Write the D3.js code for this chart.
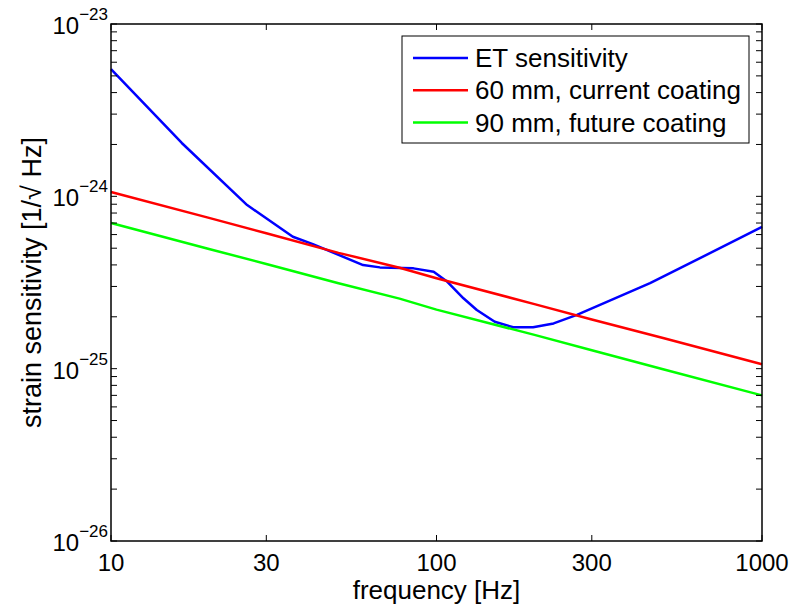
<!DOCTYPE html>
<html>
<head>
<meta charset="utf-8">
<script src="https://cdn.jsdelivr.net/npm/d3@7"></script>
<style>
  body { margin: 0; background: #fff; }
  text { font-family: "Liberation Sans", Arial, sans-serif; fill: #000; }
</style>
</head>
<body>
<div id="chart"></div>
<script>
const margin = { top: 24, right: 29, bottom: 65, left: 111 };
const width = 791, height = 606;

// ET sensitivity curve (blue)
const etFreq = [10, 16.5, 26.2, 36.2, 41.7, 59.5, 67, 85, 98, 108, 121, 133, 151, 172, 198, 229, 270, 453, 560, 1000];
const etSens = [5.48e-24, 2.04e-24, 8.9e-25, 5.83e-25, 5.28e-25, 3.99e-25, 3.87e-25, 3.82e-25, 3.65e-25, 3.19e-25, 2.56e-25, 2.19e-25, 1.87e-25, 1.74e-25, 1.74e-25, 1.83e-25, 2.05e-25, 3.14e-25, 3.83e-25, 6.64e-25];

// coating noise curves
const coatFreq = [10, 20, 30, 50, 77, 100, 200, 300, 500, 1000];
const coat60 = [1.06e-24, 7.5e-25, 6.1e-25, 4.7e-25, 3.85e-25, 3.35e-25, 2.37e-25, 1.93e-25, 1.5e-25, 1.06e-25];
const coat90 = [7.0e-25, 4.95e-25, 4.05e-25, 3.13e-25, 2.55e-25, 2.2e-25, 1.57e-25, 1.28e-25, 9.9e-26, 7.0e-26];

const xTicks = [10, 30, 100, 300, 1000];
const yDecades = [-26, -25, -24, -23];
const legendLabels = ["ET sensitivity", "60 mm, current coating", "90 mm, future coating"];
const colors = ["#0000ff", "#ff0000", "#00ff00"];

const svg = d3.select("#chart").append("svg")
  .attr("width", width)
  .attr("height", height);

const x = d3.scaleLog().domain([10, 1000]).range([margin.left, width - margin.right]);
const y = d3.scaleLog().domain([1e-26, 1e-23]).range([height - margin.bottom, margin.top]);

// minor y ticks 2..9 per decade
const yMinor = [];
yDecades.slice(0, 3).forEach(d => {
  for (let m = 2; m <= 9; m++) yMinor.push(m * Math.pow(10, d));
});
const yAll = yDecades.map(d => Math.pow(10, d)).concat(yMinor);

const tickLen = 6;
const x0 = margin.left, x1 = width - margin.right;
const y0 = height - margin.bottom, y1 = margin.top;

// lines
const series = [
  { f: etFreq, v: etSens },
  { f: coatFreq, v: coat60 },
  { f: coatFreq, v: coat90 }
];
const line = d3.line().x(d => x(d[0])).y(d => y(d[1]));
svg.append("g").selectAll("path")
  .data(series)
  .join("path")
  .attr("d", s => line(s.f.map((f, i) => [f, s.v[i]])))
  .attr("fill", "none")
  .attr("stroke", (s, i) => colors[i])
  .attr("stroke-width", 2.5)
  .attr("stroke-linejoin", "round");

// ticks (inside, all four sides)
const ticks = svg.append("g").attr("stroke", "#000").attr("stroke-width", 1);
xTicks.forEach(t => {
  ticks.append("line").attr("x1", x(t)).attr("x2", x(t)).attr("y1", y0).attr("y2", y0 - tickLen);
  ticks.append("line").attr("x1", x(t)).attr("x2", x(t)).attr("y1", y1).attr("y2", y1 + tickLen);
});
yAll.forEach(t => {
  ticks.append("line").attr("x1", x0).attr("x2", x0 + tickLen).attr("y1", y(t)).attr("y2", y(t));
  ticks.append("line").attr("x1", x1).attr("x2", x1 - tickLen).attr("y1", y(t)).attr("y2", y(t));
});

// box
svg.append("rect")
  .attr("x", x0).attr("y", y1)
  .attr("width", x1 - x0).attr("height", y0 - y1)
  .attr("fill", "none").attr("stroke", "#000").attr("stroke-width", 1.5);

// x tick labels
svg.append("g").selectAll("text")
  .data(xTicks)
  .join("text")
  .attr("x", d => x(d))
  .attr("y", y0 + 30)
  .attr("text-anchor", "middle")
  .attr("font-size", 24)
  .text(d => d);

// y tick labels 10^n
const yl = svg.append("g").selectAll("text")
  .data(yDecades)
  .join("text")
  .attr("x", x0 - 3)
  .attr("y", d => y(Math.pow(10, d)) + 10)
  .attr("text-anchor", "end")
  .attr("font-size", 24);
yl.append("tspan").text("10");
yl.append("tspan")
  .attr("font-size", 17)
  .attr("dy", -14)
  .text(d => "\u2212" + Math.abs(d));

// axis labels
svg.append("text")
  .attr("x", (x0 + x1) / 2)
  .attr("y", 599)
  .attr("text-anchor", "middle")
  .attr("font-size", 26)
  .text("frequency [Hz]");

svg.append("text")
  .attr("transform", `translate(41,${(y0 + y1) / 2}) rotate(-90)`)
  .attr("text-anchor", "middle")
  .attr("font-size", 27)
  .text("strain sensitivity [1/\u221A Hz]");

// legend
const lg = svg.append("g");
lg.append("rect")
  .attr("x", 402).attr("y", 36)
  .attr("width", 347).attr("height", 107)
  .attr("fill", "#fff").attr("stroke", "#000").attr("stroke-width", 1);
legendLabels.forEach((label, i) => {
  const cy = 58 + i * 32.3;
  lg.append("line")
    .attr("x1", 413).attr("x2", 468)
    .attr("y1", cy).attr("y2", cy)
    .attr("stroke", colors[i]).attr("stroke-width", 2.5);
  lg.append("text")
    .attr("x", 475).attr("y", cy + 9)
    .attr("font-size", 26)
    .text(label);
});
</script>
</body>
</html>
